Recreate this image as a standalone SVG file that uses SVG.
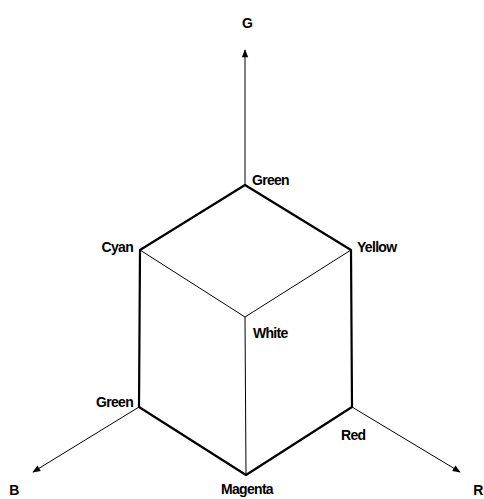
<svg xmlns="http://www.w3.org/2000/svg" width="484" height="499" viewBox="0 0 484 499">
<style>
.lbl{font-family:"Liberation Sans",Arial,sans-serif;font-weight:bold;font-size:14px;fill:#000;letter-spacing:-0.7px}
.thick{stroke:#000;stroke-width:2.2;fill:none;stroke-linejoin:round}
.thin{stroke:#000;stroke-width:1;fill:none}
.axis{stroke:#000;stroke-width:1;fill:none}
</style>
<defs>
<marker id="arr" viewBox="0 0 10 10" refX="9" refY="5" markerWidth="10" markerHeight="8" markerUnits="userSpaceOnUse" orient="auto">
<path d="M0,1 L10,5 L0,9 z" fill="#000"/>
</marker>
<marker id="arrG" viewBox="0 0 10 10" refX="9" refY="5" markerWidth="12" markerHeight="8" markerUnits="userSpaceOnUse" orient="auto">
<path d="M0,1 L10,5 L0,9 z" fill="#000"/>
</marker>
</defs>
<g id="connectors">
<line class="axis" x1="245" y1="185" x2="245" y2="50" marker-end="url(#arrG)"/>
<line class="axis" x1="139" y1="407" x2="33" y2="472" marker-end="url(#arr)"/>
<line class="axis" x1="352" y1="407" x2="460" y2="472" marker-end="url(#arr)"/>
<polygon class="thick" points="245,185 351,250 352,407 246,475 139,407 140,250"/>
<polyline class="thin" points="140,250 245,317 351,250"/>
<line class="thin" x1="245" y1="317" x2="246" y2="475"/>
</g>
<g id="node-G"><text class="lbl" x="247" y="28" text-anchor="middle">G</text></g>
<g id="node-Green-top"><text class="lbl" x="252" y="185">Green</text></g>
<g id="node-Cyan"><text class="lbl" x="133" y="252" text-anchor="end">Cyan</text></g>
<g id="node-Yellow"><text class="lbl" x="357" y="252">Yellow</text></g>
<g id="node-White"><text class="lbl" x="253" y="338">White</text></g>
<g id="node-Green-left"><text class="lbl" x="133" y="407" text-anchor="end">Green</text></g>
<g id="node-Red"><text class="lbl" x="341" y="440">Red</text></g>
<g id="node-Magenta"><text class="lbl" x="247" y="494" text-anchor="middle">Magenta</text></g>
<g id="node-B"><text class="lbl" x="14" y="495" text-anchor="middle">B</text></g>
<g id="node-R"><text class="lbl" x="478" y="495" text-anchor="middle">R</text></g>
</svg>
